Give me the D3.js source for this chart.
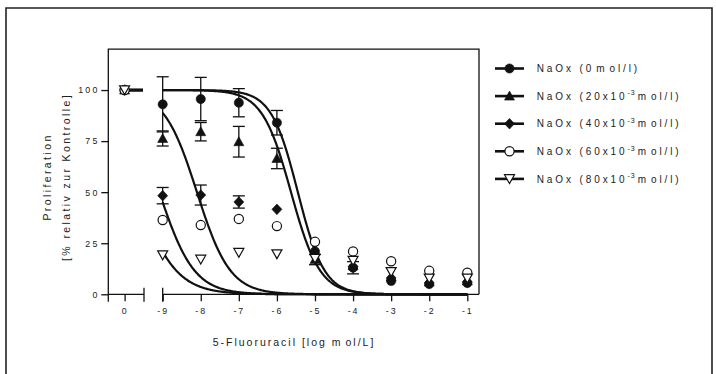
<!DOCTYPE html>
<html>
<head>
<meta charset="utf-8">
<script src="https://cdn.jsdelivr.net/npm/d3@7"></script>
<style>
  html, body { margin: 0; padding: 0; background: #fff; }
  svg { display: block; font-family: "Liberation Sans", Arial, sans-serif; }
</style>
</head>
<body>
<svg id="chart" width="716" height="374"></svg>
<script>
// ---- data -------------------------------------------------------------
// x categories: untreated control ("0") followed by log10 5-FU doses
const doseLabels = ["0", "-9", "-8", "-7", "-6", "-5", "-4", "-3", "-2", "-1"];
const doseLog    = [-9, -8, -7, -6, -5, -4, -3, -2, -1];
const controlSlot = -10;   // control column sits one decade left of the first dose, behind an axis break

const seriesNames = ["NaOx (0 mol/l)", "NaOx (20x10-3 mol/l)", "NaOx (40x10-3 mol/l)",
                     "NaOx (60x10-3 mol/l)", "NaOx (80x10-3 mol/l)"];
const seriesConc  = ["0", "20x10", "40x10", "60x10", "80x10"];
const seriesExp   = [null, "-3", "-3", "-3", "-3"];
const seriesShape = ["circle", "triangle", "diamond", "circleOpen", "triangleDownOpen"];

// mean proliferation in % of control (first value = control)
const mean0  = [100, 93.0, 95.6, 93.8, 84.0, 21.0, 13.0, 6.5, 5.0, 5.5];
const mean20 = [100, 76.3, 79.6, 74.7, 66.5, 17.0, 14.0, 8.5, 6.0, 6.5];
const mean40 = [100, 48.3, 48.6, 45.2, 41.6, 19.5, 13.5, 8.0, 5.5, 6.0];
const mean60 = [100, 36.4, 33.9, 36.9, 33.4, 25.7, 21.0, 16.2, 11.5, 10.6];
const mean80 = [100, 19.2, 17.1, 20.4, 19.7, 17.5, 16.5, 11.0, 7.8, 7.8];

// standard error of the mean
const sem0  = [1.5, 13.5, 10.6, 6.9, 6.0, 2.0, 3.0, 1.0, 1.0, 1.0];
const sem20 = [1.5, 3.7, 4.5, 7.5, 5.0, 2.5, 2.0, 1.0, 1.0, 1.0];
const sem40 = [1.5, 4.0, 4.9, 3.0, 1.0, 1.5, 1.5, 1.0, 1.0, 1.0];
const sem60 = [1.5, 1.0, 1.0, 1.0, 1.0, 1.0, 1.0, 1.0, 1.0, 1.0];
const sem80 = [1.5, 1.0, 1.0, 1.0, 1.0, 1.0, 1.0, 1.0, 1.0, 1.0];

// sigmoidal dose-response fits (top 100, bottom 0)
const fitLogIC50 = [-5.45, -5.63, -8.10, -9.09, -9.68];
const fitHill    = [1.25, 1.15, 1.00, 0.95, 0.85];

const yTicks = [0, 25, 50, 75, 100];

// ---- layout -----------------------------------------------------------
const svg = d3.select("#chart");
const ink = "#111";

const x = d3.scaleLinear().domain([-10, -1]).range([124.6, 467.3]);
const y = d3.scaleLinear().domain([0, 120]).range([294.3, 49.2]);

const axisLeftX  = 108.3;
const axisRightX = 479;
const breakLeftEnd = 144;          // end of the control segment
const breakRightStart = x(-9);     // start of the dose segment
const axisY = y(0);

// outer frame
svg.append("path")
  .attr("d", "M6,374 V8 H712 V374")
  .attr("fill", "none").attr("stroke", "#222").attr("stroke-width", 1.6);

// plot box (top + right) and y axis line
svg.append("path")
  .attr("d", `M${axisLeftX},${axisY + 7.5} V${y(120)} H${axisRightX} V${axisY}`)
  .attr("fill", "none").attr("stroke", ink).attr("stroke-width", 1.3);

// y axis ticks and labels
const yAxis = svg.append("g")
  .attr("transform", `translate(${axisLeftX},0)`)
  .call(d3.axisLeft(y).tickValues(yTicks).tickSize(7).tickPadding(4));
yAxis.select(".domain").remove();
yAxis.selectAll(".tick line").attr("stroke", ink).attr("stroke-width", 1.3);
yAxis.selectAll(".tick text")
  .attr("fill", "#222").style("font-size", "8.8px").style("letter-spacing", "2.2px")
  .attr("font-family", null).attr("dx", "2.2");

// broken x axis: control segment + dose segment
svg.append("line")
  .attr("x1", axisLeftX).attr("x2", breakLeftEnd).attr("y1", axisY).attr("y2", axisY)
  .attr("stroke", ink).attr("stroke-width", 1.3);
svg.append("line")
  .attr("x1", breakRightStart).attr("x2", axisRightX).attr("y1", axisY).attr("y2", axisY)
  .attr("stroke", ink).attr("stroke-width", 1.3);
[breakLeftEnd, breakRightStart].forEach(bx => {
  svg.append("line")
    .attr("x1", bx).attr("x2", bx).attr("y1", axisY - 6.5).attr("y2", axisY + 7.5)
    .attr("stroke", ink).attr("stroke-width", 1.3);
});

const xTickPos = [controlSlot].concat(doseLog);
const xAxis = svg.append("g")
  .attr("transform", `translate(0,${axisY})`)
  .call(d3.axisBottom(x).tickValues(xTickPos).tickSize(7).tickPadding(6)
        .tickFormat((d, i) => doseLabels[i]));
xAxis.select(".domain").remove();
xAxis.selectAll(".tick line").attr("stroke", ink).attr("stroke-width", 1.3);
xAxis.selectAll(".tick text")
  .attr("fill", "#222").style("font-size", "8.8px").style("letter-spacing", "2px")
  .attr("font-family", null).attr("dx", "0");

// axis titles
svg.append("text")
  .attr("x", 294).attr("y", 346)
  .attr("text-anchor", "middle").attr("fill", "#222")
  .style("font-size", "10.5px").style("letter-spacing", "2px")
  .call(t => {
    t.append("tspan").text("5-Fluoruracil [log m");
    t.append("tspan").attr("dx", 3).text("ol/L]");
  });

const yTitle = svg.append("g").attr("transform", "translate(0,177) rotate(-90)");
yTitle.append("text")
  .attr("x", 0).attr("y", 51)
  .attr("text-anchor", "middle").attr("fill", "#222")
  .style("font-size", "10.5px").style("letter-spacing", "2.4px")
  .text("Proliferation");
yTitle.append("text")
  .attr("x", 0).attr("y", 70)
  .attr("text-anchor", "middle").attr("fill", "#222")
  .style("font-size", "10.5px").style("letter-spacing", "2.4px")
  .text("[% relativ zur Kontrolle]");

// ---- marks ------------------------------------------------------------
const means = [mean0, mean20, mean40, mean60, mean80];
const sems  = [sem0, sem20, sem40, sem60, sem80];
const symbolHalf = 5;   // error bars shorter than the symbol are hidden behind it

function symbolPath(shape) {
  switch (shape) {
    case "circle":
    case "circleOpen":
      return d3.symbol(d3.symbolCircle, Math.PI * 4.6 * 4.6)();
    case "triangle":
      return "M0,-5 L5,4 L-5,4 Z";
    case "diamond":
      return "M0,-5.3 L5,0 L0,5.3 L-5,0 Z";
    case "triangleDownOpen":
      return "M-5,-4.2 L5,-4.2 L0,4.6 Z";
  }
}
function drawSymbol(g, shape, cx, cy) {
  const open = shape.endsWith("Open");
  g.append("path")
    .attr("d", symbolPath(shape))
    .attr("transform", `translate(${cx},${cy})`)
    .attr("fill", open ? "#fff" : ink)
    .attr("stroke", ink)
    .attr("stroke-width", open ? 1.2 : 0.6);
}

const xOf = i => x(i === 0 ? controlSlot : doseLog[i - 1]);

// fitted curves
const curveLine = d3.line().x(d => x(d[0])).y(d => y(d[1]));
const samples = d3.range(0, 401).map(k => -9 + k * 8 / 400);
means.forEach((m, s) => {
  const pts = samples.map(v => [v, 100 / (1 + Math.pow(10, (v - fitLogIC50[s]) * fitHill[s]))]);
  svg.append("path")
    .attr("d", curveLine(pts))
    .attr("fill", "none").attr("stroke", ink).attr("stroke-width", 2.2);
  // control segment of the fit (plateau at top)
  svg.append("line")
    .attr("x1", x(controlSlot)).attr("x2", breakLeftEnd - 1)
    .attr("y1", y(100)).attr("y2", y(100))
    .attr("stroke", ink).attr("stroke-width", 2.4);
});

// error bars and symbols
means.forEach((m, s) => {
  const g = svg.append("g");
  m.forEach((v, i) => {
    const cx = xOf(i), e = sems[s][i];
    const y1 = y(v + e), y2 = y(v - e);
    if (Math.abs(y2 - y1) / 2 <= symbolHalf) return;
    g.append("line").attr("x1", cx).attr("x2", cx).attr("y1", y1).attr("y2", y2)
      .attr("stroke", ink).attr("stroke-width", 1.3);
    [y1, y2].forEach(yy => g.append("line")
      .attr("x1", cx - 6).attr("x2", cx + 6).attr("y1", yy).attr("y2", yy)
      .attr("stroke", ink).attr("stroke-width", 1.3));
  });
  m.forEach((v, i) => drawSymbol(g, seriesShape[s], xOf(i), y(v)));
});

// ---- legend -----------------------------------------------------------
const legend = svg.append("g");
seriesNames.forEach((name, s) => {
  const ly = 68.5 + s * 27.6;
  legend.append("line")
    .attr("x1", 495).attr("x2", 524).attr("y1", ly).attr("y2", ly)
    .attr("stroke", ink).attr("stroke-width", 2.6);
  drawSymbol(legend, seriesShape[s], 509.5, ly);
  const t = legend.append("text")
    .attr("x", 536.7).attr("y", ly + 3.7).attr("fill", "#222")
    .style("font-size", "10px").style("letter-spacing", "2.9px");
  t.append("tspan").text("NaOx (" + seriesConc[s]);
  if (seriesExp[s]) {
    t.append("tspan").attr("dy", -4.5).style("font-size", "7px").style("letter-spacing", "1px")
      .text(seriesExp[s]);
    t.append("tspan").attr("dy", 4.5).attr("dx", 2).text("m");
  } else {
    t.append("tspan").attr("dx", 2).text("m");
  }
  t.append("tspan").attr("dx", 2).text("ol/l)");
});
</script>
</body>
</html>
